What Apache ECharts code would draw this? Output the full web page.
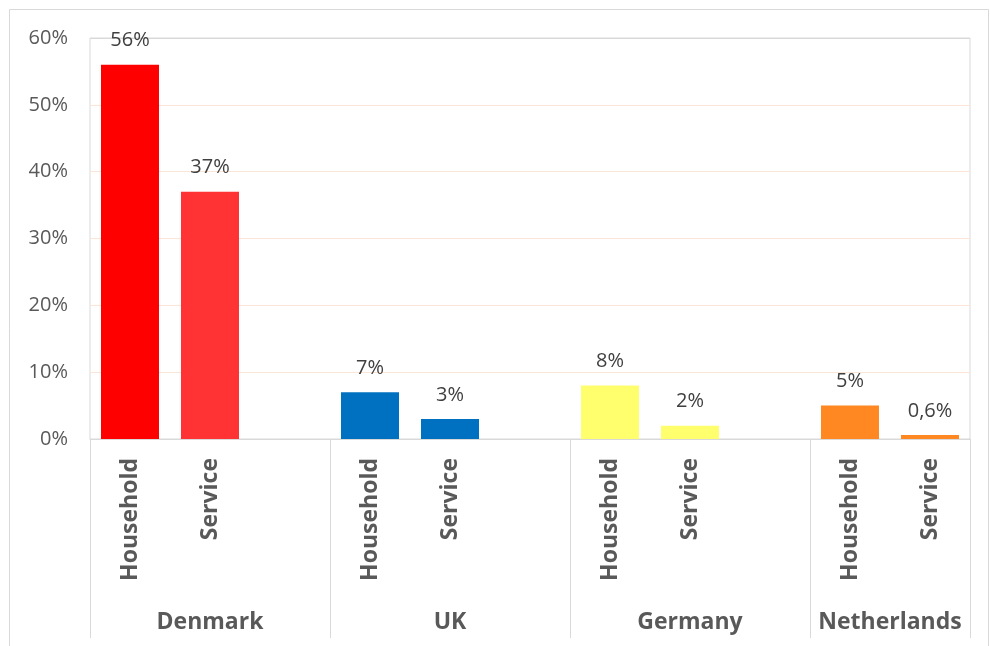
<!DOCTYPE html>
<html>
<head>
<meta charset="utf-8">
<script src="https://cdn.jsdelivr.net/npm/echarts@6/dist/echarts.min.js"></script>
<style>
  html, body { margin: 0; padding: 0; background: #fff; }
  #chart { width: 990px; height: 646px; }
</style>
</head>
<body>
<div id="chart"></div>
<script>
// Sectors per country; an empty slot separates the country groups
const sectors = ['Household', 'Service', '', 'Household', 'Service', '', 'Household', 'Service', '', 'Household', 'Service'];
// Share in percent, '-' marks the spacer slots
const shares = [56, 37, '-', 7, 3, '-', 8, 2, '-', 5, 0.6];
// Country groups and how many slots each covers
const countries = ['Denmark', 'UK', 'Germany', 'Netherlands'];
const groupSizes = [3, 3, 3, 2];
// Bar colours per slot
const barColors = ['#FF0000', '#FF3333', null, '#0070C0', '#0070C0', null, '#FFFF6E', '#FFFF6E', null, '#FF8822', '#FF8822'];
// Y-axis ticks
const yTicks = [0, 10, 20, 30, 40, 50, 60];

// group boundaries and centres on a 0..n slot scale
const boundaries = [0];
const centres = [];
groupSizes.forEach(function (s) {
  const start = boundaries[boundaries.length - 1];
  centres.push(start + s / 2);
  boundaries.push(start + s);
});
const totalSlots = boundaries[boundaries.length - 1];

// faint gridlines inside the plot, grey frame line at the top
const gridColors = yTicks.map(function (t, i) {
  return i === yTicks.length - 1 ? '#D9D9D9' : '#FBE5D6';
});

const labelFont = 'Open Sans, Liberation Sans, sans-serif';
const chart = echarts.init(document.getElementById('chart'));

chart.setOption({
  animation: false,
  backgroundColor: '#ffffff',
  graphic: [{
    type: 'rect',
    shape: { x: 9.5, y: 9.5, width: 979, height: 660 },
    style: { fill: 'none', stroke: '#D9D9D9', lineWidth: 1 },
    silent: true
  }],
  grid: {
    left: 90, right: 20, top: 38, bottom: 207,
    show: true, borderColor: '#D9D9D9', borderWidth: 1
  },
  xAxis: [{
    type: 'category',
    data: sectors,
    axisLine: { lineStyle: { color: '#D9D9D9', width: 1 } },
    axisTick: { show: false },
    axisLabel: {
      rotate: 90,
      interval: 0,
      margin: 19,
      color: '#595959',
      fontSize: 23,
      fontWeight: 'bold',
      fontFamily: labelFont
    },
    splitLine: { show: false }
  }, {
    type: 'value',
    position: 'bottom',
    min: 0,
    max: totalSlots,
    axisLine: { show: false },
    axisTick: {
      show: true,
      customValues: boundaries,
      length: 199,
      lineStyle: { color: '#D9D9D9', width: 1 }
    },
    axisLabel: {
      customValues: centres,
      margin: 172,
      color: '#595959',
      fontSize: 23,
      fontWeight: 'bold',
      fontFamily: labelFont,
      formatter: function (v) {
        const i = centres.indexOf(v);
        return i >= 0 ? countries[i] : '';
      }
    },
    splitLine: { show: false }
  }],
  yAxis: {
    type: 'value',
    min: yTicks[0],
    max: yTicks[yTicks.length - 1],
    interval: 10,
    axisLine: { show: false },
    axisTick: { show: false },
    axisLabel: {
      margin: 22,
      color: '#595959',
      fontSize: 20,
      fontFamily: labelFont,
      formatter: function (v) { return v + '%'; }
    },
    splitLine: { lineStyle: { color: gridColors, width: 1 } }
  },
  series: [{
    type: 'bar',
    xAxisIndex: 0,
    barWidth: 58,
    data: shares.map(function (v, i) {
      return { value: v, itemStyle: { color: barColors[i] || '#000' } };
    }),
    label: {
      show: true,
      position: 'top',
      distance: 14,
      color: '#404040',
      fontSize: 20,
      fontFamily: labelFont,
      formatter: function (p) {
        return String(p.value).replace('.', ',') + '%';
      }
    }
  }]
});
</script>
</body>
</html>
